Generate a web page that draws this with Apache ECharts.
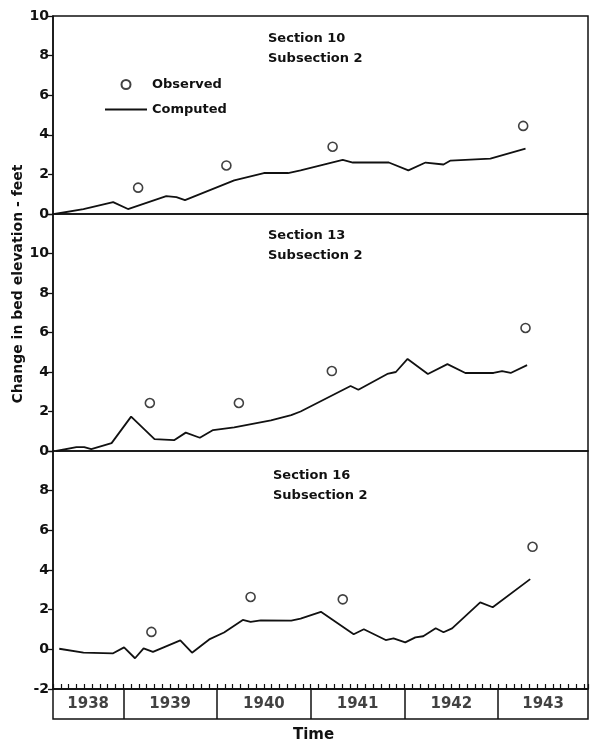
<!DOCTYPE html>
<html>
<head>
<meta charset="utf-8">
<script src="https://cdn.jsdelivr.net/npm/echarts@6/dist/echarts.min.js"></script>
<style>
  html, body { margin: 0; padding: 0; background: #fff; }
  #chart { width: 592px; height: 745px; }
</style>
</head>
<body>
<div id="chart"></div>
<script>
// time is counted in months from January 1938
const sec10Months = [3.2, 6.9, 10.7, 12.6, 17.5, 18.8, 19.9, 26.2, 30.0, 33.1, 34.7, 40.1, 41.4, 46.0, 48.5, 50.7, 53.0, 53.9, 59.0, 63.5];
const sec10Computed = [0, 0.25, 0.6, 0.25, 0.9, 0.85, 0.7, 1.7, 2.07, 2.07, 2.2, 2.73, 2.6, 2.6, 2.2, 2.6, 2.5, 2.7, 2.8, 3.3];
const sec10ObsMonths = [13.9, 25.2, 38.8, 63.2];
const sec10Observed = [1.33, 2.45, 3.4, 4.45];

const sec13Months = [3.4, 6.0, 7.0, 7.9, 10.5, 13.0, 16.0, 18.5, 20.0, 21.8, 23.5, 26.2, 30.9, 33.5, 34.7, 41.1, 42.1, 45.8, 46.9, 48.4, 51.0, 53.5, 55.8, 59.4, 60.5, 61.6, 63.7];
const sec13Computed = [0, 0.2, 0.2, 0.1, 0.4, 1.74, 0.6, 0.55, 0.93, 0.67, 1.06, 1.2, 1.55, 1.82, 2.0, 3.29, 3.1, 3.9, 4.0, 4.66, 3.9, 4.4, 3.95, 3.95, 4.05, 3.95, 4.35];
const sec13ObsMonths = [15.4, 26.8, 38.7, 63.5];
const sec13Observed = [2.43, 2.43, 4.05, 6.23];

const sec16Months = [3.8, 6.9, 10.7, 12.1, 13.5, 14.6, 15.8, 19.3, 20.8, 23.0, 24.9, 27.3, 28.3, 29.6, 33.5, 34.7, 37.3, 41.5, 42.8, 45.6, 46.6, 48.1, 49.4, 50.4, 52.0, 53.0, 54.1, 57.7, 59.3, 64.1];
const sec16Computed = [0.03, -0.17, -0.2, 0.1, -0.45, 0.05, -0.13, 0.45, -0.17, 0.5, 0.85, 1.48, 1.38, 1.46, 1.45, 1.55, 1.89, 0.76, 1.01, 0.47, 0.55, 0.35, 0.6, 0.66, 1.06, 0.86, 1.06, 2.37, 2.12, 3.54];
const sec16ObsMonths = [15.6, 28.3, 40.1, 64.4];
const sec16Observed = [0.88, 2.64, 2.52, 5.17];

const years = ['1938', '1939', '1940', '1941', '1942', '1943'];
const yearStarts = [0, 12, 24, 36, 48, 60];
const monthMin = 3;
const monthMax = 71.5;

const panelTitles = ['Section 10\nSubsection 2', 'Section 13\nSubsection 2', 'Section 16\nSubsection 2'];

const zip = (xs, ys) => xs.map((x, i) => [x, ys[i]]);

const font = 'DejaVu Sans';
const ink = '#111';

const chart = echarts.init(document.getElementById('chart'));

const gridBox = { left: 53, right: 4, show: true, borderColor: ink, borderWidth: 1.5, backgroundColor: 'transparent' };

function yAxisFor(gridIndex, min, max, hideTop) {
  return {
    type: 'value', gridIndex, min, max, interval: 2,
    axisLine: { show: true, onZero: false, lineStyle: { color: ink, width: 1.5 } },
    axisTick: { show: true, length: 5, lineStyle: { color: ink, width: 1.3 } },
    splitLine: { show: false },
    axisLabel: {
      color: ink, fontFamily: font, fontSize: 14, fontWeight: 'bold', margin: 4,
      formatter: v => (hideTop && v === max ? '' : String(v))
    }
  };
}

function hiddenX(gridIndex) {
  return { type: 'value', gridIndex, min: monthMin, max: monthMax, show: false };
}

const lineStyle = { color: ink, width: 1.8 };
const obsStyle = { color: '#fff', borderColor: ink, borderWidth: 1.6 };

function computedSeries(i, xs, ys) {
  return {
    name: 'Computed', type: 'line', xAxisIndex: i, yAxisIndex: i,
    data: zip(xs, ys), symbol: 'none', lineStyle, itemStyle: { color: ink }, z: 3
  };
}
function observedSeries(i, xs, ys) {
  return {
    name: 'Observed', type: 'scatter', xAxisIndex: i, yAxisIndex: i,
    data: zip(xs, ys), symbol: 'circle', symbolSize: 9, itemStyle: obsStyle, z: 4
  };
}

// year label boxes under the bottom panel
const yearMids = yearStarts.map((s, i) => {
  const a = Math.max(s, monthMin);
  const b = Math.min(s + 12, monthMax);
  return [(a + b) / 2, 0.5];
});

const option = {
  animation: false,
  backgroundColor: '#fff',
  title: panelTitles.map((t, i) => ({
    text: t,
    left: [263, 263, 268][i],
    top: [24, 221, 461][i],
    textStyle: { fontFamily: font, fontSize: 13, fontWeight: 'bold', color: ink, lineHeight: 20 }
  })),
  legend: {
    data: [
      { name: 'Observed', icon: 'circle' },
      { name: 'Computed', itemStyle: { opacity: 0 } }
    ],
    orient: 'vertical', left: 104, top: 78, padding: 0,
    itemWidth: 42, itemHeight: 9, itemGap: 12,
    textStyle: { fontFamily: font, fontSize: 13, fontWeight: 'bold', color: ink }
  },
  graphic: [
    {
      type: 'text', x: 18, y: 284, rotation: Math.PI / 2,
      style: { text: 'Change in bed elevation - feet', fontFamily: font, fontSize: 14, fontWeight: 'bold', fill: ink, align: 'center', verticalAlign: 'middle' }
    },
    {
      type: 'text', left: 293, top: 728,
      style: { text: 'Time', fontFamily: font, fontSize: 15, fontWeight: 'bold', fill: ink }
    }
  ],
  grid: [
    Object.assign({ top: 16, height: 198 }, gridBox),
    Object.assign({ top: 214, height: 237 }, gridBox),
    Object.assign({ top: 451, height: 238 }, gridBox),
    Object.assign({ top: 689, height: 30 }, gridBox)
  ],
  xAxis: [
    hiddenX(0),
    hiddenX(1),
    {
      type: 'value', gridIndex: 2, min: monthMin, max: monthMax, interval: 1,
      axisLine: { show: true, onZero: false, lineStyle: { color: ink, width: 1.5 } },
      axisTick: { show: true, inside: true, length: 5, lineStyle: { color: ink, width: 1.2 } },
      axisLabel: { show: false }, splitLine: { show: false }
    },
    hiddenX(3)
  ],
  yAxis: [
    yAxisFor(0, 0, 10, false),
    yAxisFor(1, 0, 12, true),
    yAxisFor(2, -2, 10, true),
    { type: 'value', gridIndex: 3, min: 0, max: 1, show: false }
  ],
  series: [
    observedSeries(0, sec10ObsMonths, sec10Observed),
    computedSeries(0, sec10Months, sec10Computed),
    observedSeries(1, sec13ObsMonths, sec13Observed),
    computedSeries(1, sec13Months, sec13Computed),
    observedSeries(2, sec16ObsMonths, sec16Observed),
    computedSeries(2, sec16Months, sec16Computed),
    {
      type: 'scatter', xAxisIndex: 3, yAxisIndex: 3, symbolSize: 0,
      data: yearMids,
      label: {
        show: true, position: 'inside', color: ink, fontFamily: font, fontSize: 15, fontWeight: 'bold',
        textBorderWidth: 0,
        formatter: p => years[p.dataIndex]
      },
      markLine: {
        silent: true, symbol: 'none', label: { show: false },
        lineStyle: { color: ink, width: 1.5, type: 'solid' },
        data: yearStarts.filter(s => s > monthMin).map(s => ({ xAxis: s }))
      }
    }
  ]
};

chart.setOption(option);
</script>
</body>
</html>
